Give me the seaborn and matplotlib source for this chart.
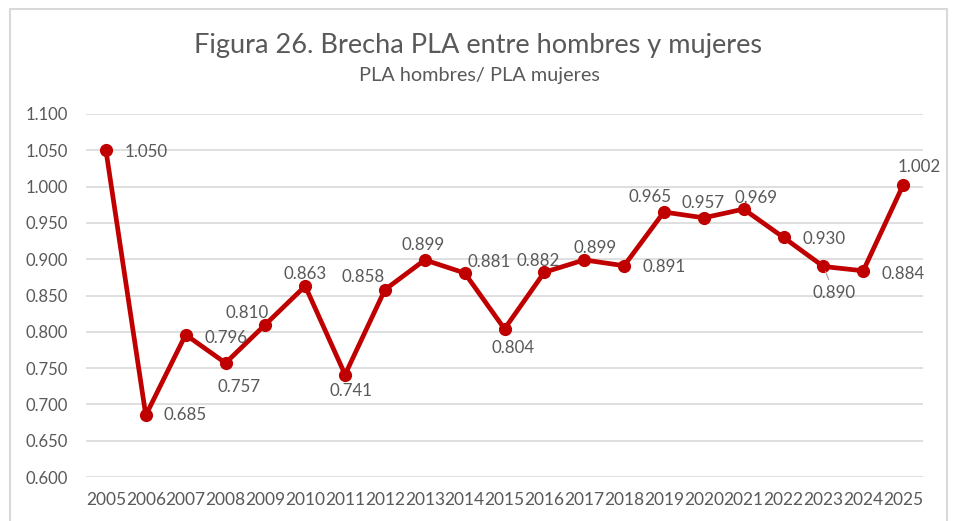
import matplotlib
matplotlib.use("Agg")
import matplotlib.pyplot as plt
import seaborn as sns
import pandas as pd
from matplotlib.patches import Rectangle
from matplotlib.ticker import FuncFormatter

sns.set_theme(style="white")
plt.rcParams["font.family"] = ["Lato", "DejaVu Sans"]

years = list(range(2005, 2026))
ratio = [1.050, 0.685, 0.796, 0.757, 0.810, 0.863, 0.741, 0.858, 0.899, 0.881,
         0.804, 0.882, 0.899, 0.891, 0.965, 0.957, 0.969, 0.930, 0.890, 0.884, 1.002]
# label offsets in pixels (dx, dy down)
label_offsets = [(40, 2), (39, 0), (40, 3), (13, 24), (-18, -12), (0, -12), (6, 16),
                 (-22, -13), (-2, -15), (25, -11), (9, 19), (-6, -11), (11, -12),
                 (40, 1), (-14, -15), (-1, -15), (12, -11), (41, 2), (11, 27),
                 (40, 3), (16, -18)]

red = "#C00000"
grey_txt = "#595959"

df = pd.DataFrame({"Year": years, "Ratio": ratio})

fig = plt.figure(figsize=(9.56, 5.21), dpi=100)
ax = fig.add_axes([86 / 956, 1 - 477 / 521, 837 / 956, 363 / 521])

sns.lineplot(data=df, x="Year", y="Ratio", color=red, linewidth=3.4,
             marker="o", markersize=9.5, markeredgewidth=0, ax=ax)

for yr, val, (dx, dy) in zip(years, ratio, label_offsets):
    arrow = None
    if yr == 2023:
        arrow = dict(arrowstyle="-", color="#a6a6a6", lw=0.9, shrinkA=2, shrinkB=4)
    ax.annotate(f"{val:.3f}", (yr, val), xytext=(dx, -dy), textcoords="offset pixels",
                ha="center", va="center", fontsize=12.2, color=grey_txt,
                arrowprops=arrow)

ax.set_xlim(2004.5, 2025.5)
ax.set_ylim(0.6, 1.1)
ax.set_yticks([0.6 + 0.05 * i for i in range(11)])
ax.yaxis.set_major_formatter(FuncFormatter(lambda v, _: f"{v:.3f}"))
ax.set_xticks(years)
ax.set_xticklabels([str(y) for y in years])
ax.tick_params(axis="both", length=0, labelsize=12.5, labelcolor=grey_txt)
ax.tick_params(axis="y", labelsize=12, pad=13)
ax.tick_params(axis="x", pad=11)
ax.grid(axis="y", color="#d9d9d9", linewidth=1.2)
ax.set_axisbelow(True)
for s in ax.spines.values():
    s.set_visible(False)
ax.set_xlabel("")
ax.set_ylabel("")

fig.text(478 / 956, 1 - 45 / 521, "Figura 26. Brecha PLA entre hombres y mujeres",
         ha="center", va="center", fontsize=19.5, color=grey_txt)
fig.text(479 / 956, 1 - 76 / 521, "PLA hombres/ PLA mujeres",
         ha="center", va="center", fontsize=14.3, color=grey_txt)

fig.patches.append(Rectangle((10 / 956, -0.05), 937 / 956, 1.05 - 9 / 521,
                             transform=fig.transFigure, fill=False,
                             edgecolor="#d9d9d9", linewidth=1.5))

fig.savefig("out.png", dpi=100, facecolor="white")
plt.close(fig)
